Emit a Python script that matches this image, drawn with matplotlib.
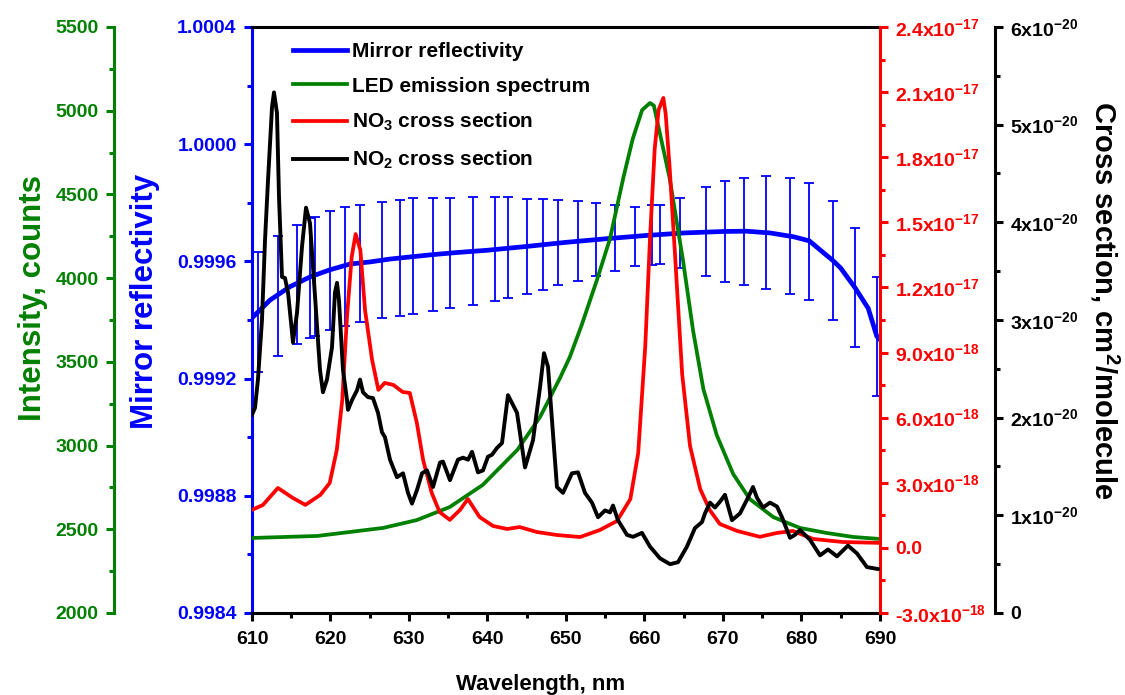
import numpy as np
import matplotlib
matplotlib.use("Agg")
import matplotlib.pyplot as plt
from matplotlib.ticker import FixedLocator, FuncFormatter, FormatStrFormatter

plt.rcParams['font.family'] = ['Liberation Sans', 'DejaVu Sans']
plt.rcParams['font.weight'] = 'bold'
plt.rcParams['axes.labelweight'] = 'bold'
plt.rcParams['mathtext.fontset'] = 'custom'
plt.rcParams['mathtext.rm'] = 'Liberation Sans:bold'
plt.rcParams['mathtext.bf'] = 'Liberation Sans:bold'
plt.rcParams['mathtext.it'] = 'Liberation Sans:bold:italic'
plt.rcParams['mathtext.default'] = 'bf'

BLUE = '#0000ff'
GREEN = '#008000'
RED = '#ff0000'
BLACK = '#000000'

# mirror reflectivity curve
refl_wl = [610.0, 612.3, 614.8, 617.4, 619.9, 622.5, 625.0, 627.6, 630.1, 633.0,
           636.0, 640.0, 645.0, 650.0, 655.0, 660.0, 665.0, 670.0, 673.0, 676.0,
           679.0, 681.0, 683.0, 684.0, 685.0, 686.8, 688.5, 689.6, 690.0]
refl = [0.999407, 0.999468, 0.999513, 0.999547, 0.999571, 0.999591, 0.999598, 0.999608, 0.999615, 0.999623,
        0.999630, 0.999638, 0.999651, 0.999665, 0.999677, 0.999688, 0.999697, 0.999702, 0.999703, 0.999697,
        0.999684, 0.999670, 0.999625, 0.999603, 0.999577, 0.999511, 0.999440, 0.999344, 0.999333]

# error bars of the reflectivity
err_wl = [610.8, 613.3, 615.7, 617.4, 618.0, 619.9, 621.8, 623.8, 626.6, 628.9,
          630.5, 633.1, 635.2, 638.2, 641.0, 642.6, 645.0, 647.1, 649.0, 651.5,
          653.8, 656.2, 658.8, 661.0, 662.0, 664.5, 667.8, 670.3, 672.7, 675.5,
          678.5, 681.0, 684.0, 686.8, 689.6]
err_mid = [0.999427, 0.999482, 0.999521, 0.999543, 0.999548, 0.999569, 0.999583, 0.999593, 0.999605, 0.999612,
           0.999618, 0.999623, 0.999628, 0.999635, 0.999642, 0.999646, 0.999652, 0.999658, 0.999663, 0.999669,
           0.999675, 0.999681, 0.999686, 0.999690, 0.999692, 0.999697, 0.999701, 0.999702, 0.999702, 0.999698,
           0.999686, 0.999668, 0.999603, 0.999511, 0.999344]
err_half = [2.05e-4, 2.05e-4, 2.03e-4, 2.05e-4, 2.03e-4, 2.03e-4, 2.03e-4, 2.00e-4, 1.98e-4, 1.98e-4,
            1.98e-4, 1.93e-4, 1.88e-4, 1.84e-4, 1.77e-4, 1.72e-4, 1.62e-4, 1.55e-4, 1.45e-4, 1.37e-4,
            1.25e-4, 1.13e-4, 1.01e-4, 1.01e-4, 1.02e-4, 1.19e-4, 1.52e-4, 1.71e-4, 1.83e-4, 1.93e-4,
            1.98e-4, 2.00e-4, 2.03e-4, 2.03e-4, 2.03e-4]

# LED emission spectrum, counts
led_wl = [610.0, 618.3, 626.7, 631.0, 635.2, 639.4, 643.8, 646.7, 649.2, 650.5,
          652.0, 653.9, 655.6, 657.3, 658.5, 659.7, 660.7, 661.2, 661.7, 663.2,
          664.9, 666.2, 667.5, 669.2, 671.3, 673.4, 676.4, 679.8, 683.2, 686.6,
          690.0]
led = [2448, 2460, 2508, 2555, 2633, 2765, 2974, 3171, 3400, 3530,
       3720, 3983, 4234, 4598, 4831, 5004, 5046, 5030, 4921, 4598,
       4108, 3684, 3338, 3063, 2830, 2681, 2573, 2508, 2478, 2454,
       2442]

# NO3 cross section, 1e-18 cm2/molecule
no3_wl = [610.0, 611.4, 613.3, 615.2, 616.8, 618.7, 619.9, 620.8, 621.5, 622.1,
          622.7, 623.2, 623.8, 624.4, 625.3, 626.1, 626.9, 628.0, 629.2, 630.1,
          631.0, 631.8, 632.9, 633.9, 635.2, 636.5, 637.5, 639.0, 640.7, 642.5,
          644.1, 646.3, 648.9, 651.8, 654.3, 656.5, 658.2, 659.2, 660.1, 660.7,
          661.3, 661.8, 662.4, 662.7, 663.2, 663.9, 664.8, 665.8, 667.1, 668.3,
          669.6, 671.8, 674.7, 676.9, 678.9, 681.5, 685.3, 690.0]
no3 = [1.75, 1.98, 2.76, 2.30, 1.98, 2.44, 2.99, 4.51, 6.82, 10.64,
       13.40, 14.46, 13.73, 10.96, 8.66, 7.28, 7.60, 7.51, 7.18, 7.14,
       5.76, 4.05, 2.53, 1.65, 1.29, 1.75, 2.25, 1.42, 1.01, 0.87,
       0.96, 0.73, 0.59, 0.50, 0.82, 1.24, 2.25, 4.37, 9.30, 14.23,
       18.38, 20.18, 20.73, 19.99, 17.55, 13.45, 8.01, 4.70, 2.71, 1.75,
       1.10, 0.78, 0.51, 0.69, 0.78, 0.41, 0.27, 0.23]

# NO2 cross section, 1e-20 cm2/molecule
no2_wl = [610.00, 610.38, 610.76, 611.27, 611.66, 612.04, 612.55, 612.80, 613.18, 613.44,
          613.82, 614.20, 614.59, 615.10, 615.22, 615.73, 616.37, 616.88, 617.39, 618.03,
          618.66, 619.04, 619.55, 620.19, 620.57, 620.83, 621.08, 621.59, 622.10, 622.23,
          622.74, 623.38, 623.76, 624.14, 624.78, 625.41, 626.05, 626.56, 626.94, 627.58,
          628.47, 629.24, 629.87, 630.38, 631.02, 631.66, 632.29, 633.06, 633.95, 634.33,
          635.22, 636.24, 636.88, 637.52, 638.03, 638.79, 639.43, 640.06, 640.57, 641.21,
          641.85, 642.61, 643.25, 643.76, 644.78, 645.80, 646.69, 647.20, 647.71, 648.34,
          648.85, 649.62, 650.76, 651.53, 652.42, 653.31, 654.08, 654.97, 655.61, 655.99,
          656.62, 657.77, 658.54, 659.68, 660.70, 661.97, 663.25, 664.27, 665.41, 666.43,
          667.32, 667.71, 668.34, 668.98, 669.62, 670.25, 671.15, 672.17, 673.18, 673.82,
          674.33, 675.10, 675.99, 676.88, 677.52, 678.54, 679.17, 679.81, 681.08, 682.36,
          683.38, 684.52, 685.92, 687.07, 688.34, 689.75, 690.0]
no2 = [2.03, 2.10, 2.39, 3.00, 3.82, 4.43, 5.18, 5.33, 5.12, 4.26,
       3.44, 3.43, 3.28, 2.87, 2.77, 3.07, 3.75, 4.15, 3.99, 3.24,
       2.49, 2.26, 2.39, 2.72, 3.28, 3.38, 3.20, 2.49, 2.18, 2.08,
       2.18, 2.28, 2.39, 2.26, 2.21, 2.20, 2.05, 1.85, 1.80, 1.57,
       1.39, 1.43, 1.23, 1.12, 1.26, 1.43, 1.46, 1.29, 1.54, 1.55,
       1.36, 1.57, 1.59, 1.57, 1.65, 1.44, 1.46, 1.60, 1.62, 1.69,
       1.74, 2.23, 2.13, 2.05, 1.49, 1.77, 2.31, 2.66, 2.52, 1.84,
       1.29, 1.23, 1.43, 1.44, 1.23, 1.13, 0.98, 1.05, 1.03, 1.10,
       0.95, 0.80, 0.78, 0.82, 0.68, 0.56, 0.50, 0.52, 0.68, 0.87,
       0.93, 1.02, 1.13, 1.08, 1.14, 1.21, 0.95, 1.02, 1.18, 1.29,
       1.18, 1.08, 1.13, 1.09, 0.98, 0.77, 0.80, 0.85, 0.75, 0.59,
       0.65, 0.58, 0.69, 0.61, 0.47, 0.45, 0.45]

legend_labels = ['Mirror reflectivity', 'LED emission spectrum',
                 'NO$_3$ cross section', 'NO$_2$ cross section']

# tick positions of each axis
x_ticks = [610, 620, 630, 640, 650, 660, 670, 680, 690]
refl_ticks = [0.9984, 0.9988, 0.9992, 0.9996, 1.0000, 1.0004]
led_ticks = [2000, 2500, 3000, 3500, 4000, 4500, 5000, 5500]
no3_ticks = [-3.0, 0.0, 3.0, 6.0, 9.0, 12.0, 15.0, 18.0, 21.0, 24.0]   # 1e-18
no2_ticks = [0, 1, 2, 3, 4, 5, 6]                                      # 1e-20


def minor_between(ticks):
    return [(a + b) / 2 for a, b in zip(ticks[:-1], ticks[1:])]


def sci_label(v, digits):
    if abs(v) < 1e-30:
        return '0.0' if digits else '0'
    e = int(np.floor(np.log10(abs(v)) + 1e-9))
    m = v / 10 ** e
    return f'{m:.{digits}f}x10$^{{{e}}}$'


fig = plt.figure(figsize=(11.25, 6.95), dpi=100)
ax = fig.add_axes([0.224, 0.118, 0.5582, 0.8432])
ax_g = ax.twinx()
ax_r = ax.twinx()
ax_k = ax.twinx()

# --- data ---
ax.errorbar(err_wl, err_mid, yerr=err_half, fmt='none', ecolor=BLUE,
            elinewidth=1.3, capsize=3.6, capthick=1.3, zorder=2)
l_b, = ax.plot(refl_wl, refl, color=BLUE, lw=3.4, zorder=3, solid_joinstyle='round')
l_g, = ax_g.plot(led_wl, led, color=GREEN, lw=2.7, solid_joinstyle='round')
l_r, = ax_r.plot(no3_wl, np.array(no3) * 1e-18, color=RED, lw=2.7, solid_joinstyle='round')
l_k, = ax_k.plot(no2_wl, np.array(no2) * 1e-20, color=BLACK, lw=2.8, solid_joinstyle='round')

# --- limits ---
ax.set_xlim(610, 690)
ax.set_ylim(0.9984, 1.0004)
ax_g.set_ylim(2000, 5500)
ax_r.set_ylim(-3e-18, 2.4e-17)
ax_k.set_ylim(0, 6e-20)

SW = 2.2
for a in (ax, ax_g, ax_r, ax_k):
    for s in a.spines.values():
        s.set_linewidth(SW)
        s.set_visible(False)
    a.yaxis.offsetText.set_visible(False)

ax.spines['left'].set_visible(True)
ax.spines['left'].set_color(BLUE)
ax.spines['bottom'].set_visible(True)
ax.spines['top'].set_visible(True)

ax_g.spines['left'].set_visible(True)
ax_g.spines['left'].set_color(GREEN)
ax_g.spines['left'].set_position(('axes', -0.22))
ax_g.yaxis.set_ticks_position('left')
ax_g.yaxis.set_label_position('left')

ax_r.spines['right'].set_visible(True)
ax_r.spines['right'].set_color(RED)

ax_k.spines['right'].set_visible(True)
ax_k.spines['right'].set_position(('axes', 1.183))

# --- ticks ---
ax.set_xticks(x_ticks)
ax.xaxis.set_minor_locator(FixedLocator(minor_between(x_ticks)))
ax.set_yticks(refl_ticks)
ax.yaxis.set_minor_locator(FixedLocator(minor_between(refl_ticks)))
ax.yaxis.set_major_formatter(FormatStrFormatter('%.4f'))
ax_g.set_yticks(led_ticks)
ax_g.yaxis.set_minor_locator(FixedLocator(minor_between(led_ticks)))
r_ticks = [t * 1e-18 for t in no3_ticks]
ax_r.set_yticks(r_ticks)
ax_r.yaxis.set_minor_locator(FixedLocator(minor_between(r_ticks)))
ax_r.yaxis.set_major_formatter(FuncFormatter(lambda v, p: sci_label(v, 1)))
k_ticks = [t * 1e-20 for t in no2_ticks]
ax_k.set_yticks(k_ticks)
ax_k.yaxis.set_minor_locator(FixedLocator(minor_between(k_ticks)))
ax_k.yaxis.set_major_formatter(FuncFormatter(lambda v, p: sci_label(v, 0)))

for a, axis, col in ((ax, 'x', BLACK), (ax, 'y', BLUE), (ax_g, 'y', GREEN),
                     (ax_r, 'y', RED), (ax_k, 'y', BLACK)):
    a.tick_params(axis=axis, which='both', colors=col, direction='out',
                  width=SW, labelsize=14, pad=5)
    a.tick_params(axis=axis, which='major', length=6)
    a.tick_params(axis=axis, which='minor', length=3.5)
ax.tick_params(axis='x', pad=7)

# --- labels ---
ax.set_xlabel('Wavelength, nm', fontsize=16, va='top')
ax.xaxis.set_label_coords(0.459, -0.104)
ax.set_ylabel('Mirror reflectivity', fontsize=22.5, color=BLUE)
ax.yaxis.set_label_coords(-0.147, 0.532)
ax_g.set_ylabel('Intensity, counts', fontsize=22.5, color=GREEN)
ax_g.yaxis.set_label_coords(-0.325, 0.537)
ax_k.set_ylabel('Cross section, cm$^2$/molecule', fontsize=21, color=BLACK,
                rotation=270, va='bottom')
ax_k.yaxis.set_label_coords(1.331, 0.534)

ax_k.legend([l_b, l_g, l_r, l_k], legend_labels,
            loc='upper left', bbox_to_anchor=(0.052, 0.988), frameon=False,
            fontsize=15, handlelength=2.6, handletextpad=0.25,
            labelspacing=0.74, borderaxespad=0)

fig.savefig('out.png', dpi=100)
